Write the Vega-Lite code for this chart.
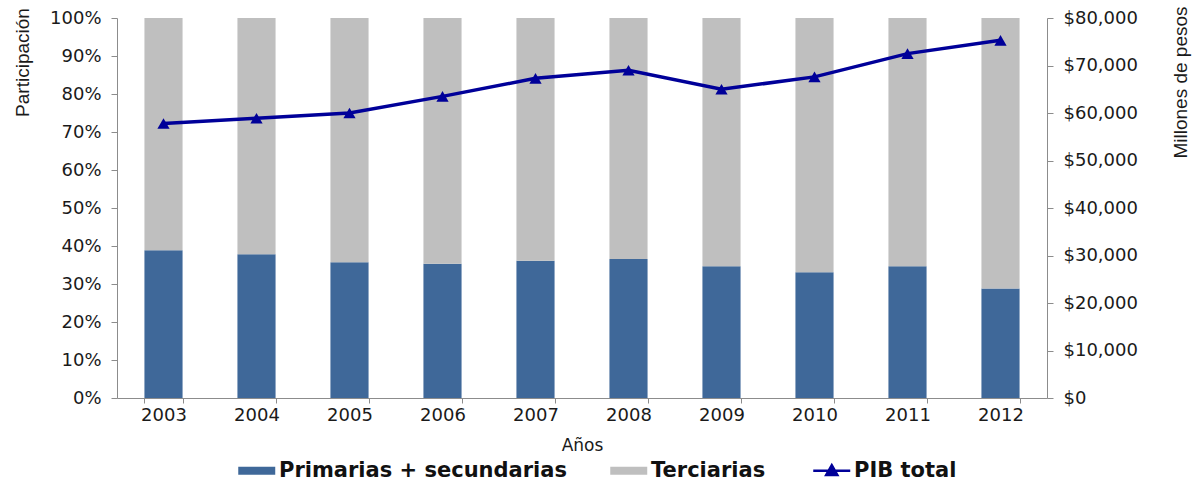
{
  "$schema": "https://vega.github.io/schema/vega-lite/v6.json",
  "width": 930,
  "height": 380,
  "autosize": {"type": "none"},
  "padding": {"left": 117, "top": 18, "right": 146, "bottom": 86},
  "background": "white",
  "config": {
    "view": {"stroke": null},
    "font": "DejaVu Sans",
    "axis": {
      "grid": false,
      "domainColor": "#8c8c8c",
      "tickColor": "#8c8c8c",
      "labelColor": "#1a1a1a",
      "titleColor": "#1a1a1a",
      "labelFont": "DejaVu Sans",
      "labelFontSize": 18,
      "titleFontWeight": "normal"
    }
  },
  "datasets": {
    "sectores": [
      {"anio": "2003", "serie": "Primarias + secundarias", "participacion": 0.389},
      {"anio": "2003", "serie": "Terciarias", "participacion": 0.611},
      {"anio": "2004", "serie": "Primarias + secundarias", "participacion": 0.378},
      {"anio": "2004", "serie": "Terciarias", "participacion": 0.622},
      {"anio": "2005", "serie": "Primarias + secundarias", "participacion": 0.357},
      {"anio": "2005", "serie": "Terciarias", "participacion": 0.643},
      {"anio": "2006", "serie": "Primarias + secundarias", "participacion": 0.353},
      {"anio": "2006", "serie": "Terciarias", "participacion": 0.647},
      {"anio": "2007", "serie": "Primarias + secundarias", "participacion": 0.361},
      {"anio": "2007", "serie": "Terciarias", "participacion": 0.639},
      {"anio": "2008", "serie": "Primarias + secundarias", "participacion": 0.366},
      {"anio": "2008", "serie": "Terciarias", "participacion": 0.634},
      {"anio": "2009", "serie": "Primarias + secundarias", "participacion": 0.347},
      {"anio": "2009", "serie": "Terciarias", "participacion": 0.653},
      {"anio": "2010", "serie": "Primarias + secundarias", "participacion": 0.331},
      {"anio": "2010", "serie": "Terciarias", "participacion": 0.669},
      {"anio": "2011", "serie": "Primarias + secundarias", "participacion": 0.347},
      {"anio": "2011", "serie": "Terciarias", "participacion": 0.653},
      {"anio": "2012", "serie": "Primarias + secundarias", "participacion": 0.288},
      {"anio": "2012", "serie": "Terciarias", "participacion": 0.712}
    ],
    "pib": [
      {"anio": "2003", "serie": "PIB total", "pib": 57800},
      {"anio": "2004", "serie": "PIB total", "pib": 58900},
      {"anio": "2005", "serie": "PIB total", "pib": 60000},
      {"anio": "2006", "serie": "PIB total", "pib": 63500},
      {"anio": "2007", "serie": "PIB total", "pib": 67300},
      {"anio": "2008", "serie": "PIB total", "pib": 69000},
      {"anio": "2009", "serie": "PIB total", "pib": 65000},
      {"anio": "2010", "serie": "PIB total", "pib": 67600},
      {"anio": "2011", "serie": "PIB total", "pib": 72500},
      {"anio": "2012", "serie": "PIB total", "pib": 75300}
    ]
  },
  "layer": [
    {
      "data": {"name": "sectores"},
      "mark": {"type": "bar"},
      "encoding": {
        "x": {
          "field": "anio",
          "type": "ordinal",
          "scale": {"paddingInner": 0.59, "paddingOuter": 0.295},
          "axis": {
            "title": "Años",
            "titleFont": "DejaVu Sans",
            "titleFontSize": 17,
            "titlePadding": 13,
            "labelAngle": 0,
            "tickBand": "extent",
            "tickSize": 5,
            "labelPadding": 3
          }
        },
        "y": {
          "field": "participacion",
          "type": "quantitative",
          "stack": "zero",
          "scale": {"domain": [0, 1]},
          "axis": {
            "orient": "left",
            "values": [0, 0.1, 0.2, 0.3, 0.4, 0.5, 0.6, 0.7, 0.8, 0.9, 1],
            "format": ".0%",
            "title": "Participación",
            "titleFont": "Liberation Sans",
            "titleFontSize": 19,
            "titleAngle": -90,
            "titleAlign": "center",
            "titleBaseline": "middle",
            "titleX": -95,
            "titleY": 44,
            "tickSize": 6,
            "labelPadding": 10
          }
        },
        "order": {"field": "serie", "sort": "ascending"},
        "color": {
          "field": "serie",
          "type": "nominal",
          "scale": {
            "domain": ["Primarias + secundarias", "Terciarias", "PIB total"],
            "range": ["#3f6899", "#bfbfbf", "#000099"]
          },
          "legend": {
            "orient": "none",
            "legendX": 120,
            "legendY": 442,
            "direction": "horizontal",
            "title": null,
            "labelFont": "DejaVu Sans",
            "labelFontWeight": "bold",
            "labelFontSize": 21,
            "labelLimit": 500,
            "labelColor": "#111111",
            "symbolSize": 342,
            "labelOffset": 21,
            "columnPadding": 42,
            "encode": {
              "symbols": {
                "update": {
                  "shape": {"signal": "datum.value === 'PIB total' ? 'M-1,0H3M1,-0.6L1.6,0.45L0.4,0.45Z' : 'M-1,-0.43H3V0.43H-1Z'"},
                  "fill": {"signal": "scale('color', datum.value)"},
                  "stroke": {"signal": "scale('color', datum.value)"},
                  "strokeWidth": {"signal": "datum.value === 'PIB total' ? 2.5 : 0"},
                  "opacity": {"value": 1},
                  "fillOpacity": {"value": 1}
                }
              }
            }
          }
        }
      }
    },
    {
      "data": {"name": "pib"},
      "mark": {
        "type": "line",
        "strokeWidth": 3.5,
        "point": {"shape": "triangle-up", "filled": true, "size": 150, "opacity": 1}
      },
      "encoding": {
        "x": {"field": "anio", "type": "ordinal"},
        "y": {
          "field": "pib",
          "type": "quantitative",
          "scale": {"domain": [0, 80000]},
          "axis": {
            "orient": "right",
            "values": [0, 10000, 20000, 30000, 40000, 50000, 60000, 70000, 80000],
            "format": "$,.0f",
            "title": "Millones de pesos",
            "titleFont": "Liberation Sans",
            "titleFontSize": 19,
            "titleAngle": -90,
            "titleAlign": "center",
            "titleBaseline": "middle",
            "titleX": 133,
            "titleY": 64,
            "tickSize": 6,
            "labelPadding": 10
          }
        },
        "color": {"field": "serie", "type": "nominal"}
      }
    }
  ],
  "resolve": {"scale": {"y": "independent"}}
}
